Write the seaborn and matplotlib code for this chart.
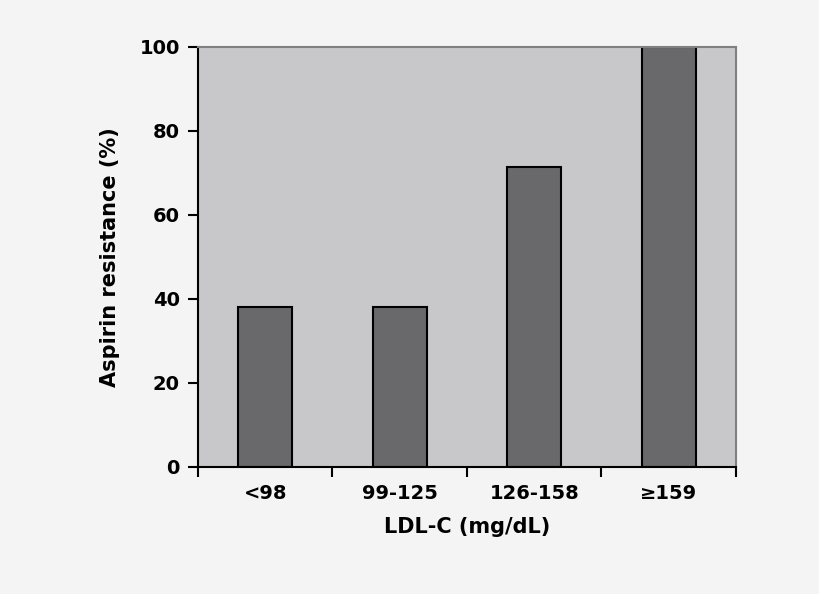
import matplotlib
matplotlib.use("Agg")
import matplotlib.pyplot as plt
import seaborn as sns
import pandas as pd
from matplotlib.ticker import FixedLocator

categories = ["<98", "99-125", "126-158", "≥159"]
values = [38, 38, 71.5, 100]
yticks = [0, 20, 40, 60, 80, 100]

df = pd.DataFrame({"cat": categories, "val": values})
fig = plt.figure(figsize=(8.2, 5.94), dpi=100, facecolor="#f4f4f4")
ax = fig.add_axes([198/820, 1-467/594, (736-198)/820, (467-47)/594])
ax.set_facecolor("#c8c8ca")
sns.barplot(data=df, x="cat", y="val", color="#69696b", edgecolor="black",
            linewidth=1.5, width=0.4, saturation=1, ax=ax)
ax.set_xlim(-0.5, 3.5)
ax.set_ylim(0, 100)
ax.set_yticks(yticks)
ax.xaxis.set_major_locator(FixedLocator([-0.5, 0.5, 1.5, 2.5, 3.5]))
ax.xaxis.set_minor_locator(FixedLocator([0, 1, 2, 3]))
ax.set_xticklabels([])
ax.set_xticklabels(categories, minor=True)
ax.tick_params(axis="x", which="minor", length=0, pad=12, labelsize=14)
ax.tick_params(axis="x", which="major", length=7, width=1.5, direction="out")
ax.tick_params(axis="y", length=7, width=1.5, direction="out", labelsize=14, pad=6)
for lab in ax.get_xticklabels(minor=True) + ax.get_yticklabels():
    lab.set_fontweight("bold")
for s in ["left", "bottom"]:
    ax.spines[s].set_color("black"); ax.spines[s].set_linewidth(1.5)
for s in ["top", "right"]:
    ax.spines[s].set_color("#808080"); ax.spines[s].set_linewidth(1.5)
ax.set_xlabel("LDL-C (mg/dL)", fontsize=15, fontweight="bold", labelpad=10)
ax.set_ylabel("Aspirin resistance (%)", fontsize=15, fontweight="bold", labelpad=14)
fig.savefig("out.png", dpi=100, facecolor=fig.get_facecolor())
